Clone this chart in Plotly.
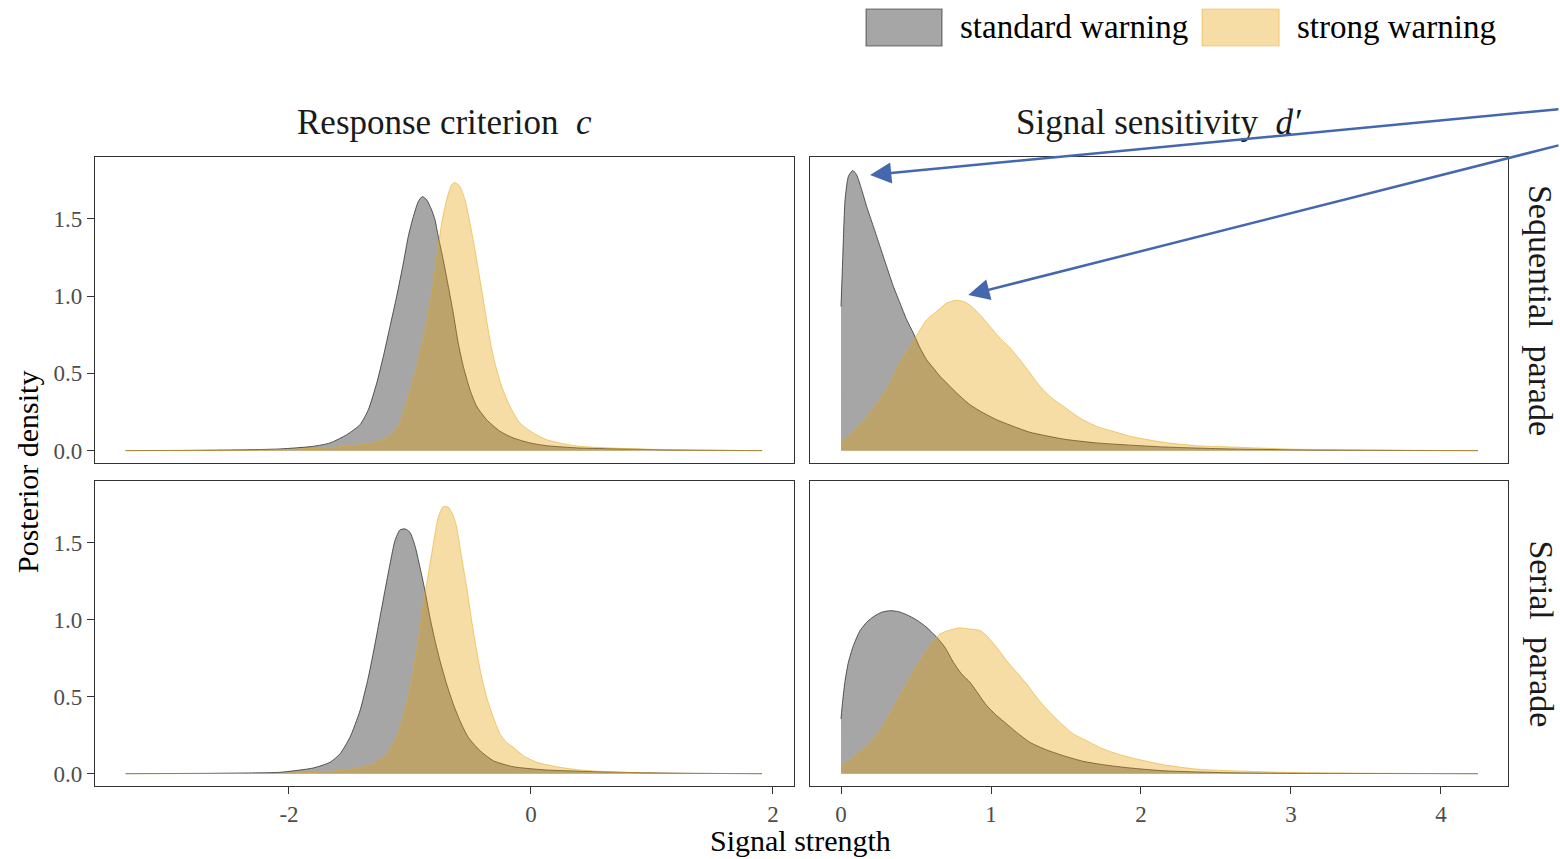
import plotly.graph_objects as go

# ---------------- data ----------------
# Response criterion c, Sequential parade
seq_c_std_x = [-3.35, -2.8, -2.4, -2.074, -1.80, -1.66, -1.523, -1.413, -1.344, -1.275, -1.220, -1.165, -1.110,
               -1.055, -1.014, -0.972, -0.931, -0.898, -0.862, -0.821, -0.793, -0.766, -0.725, -0.683, -0.642,
               -0.601, -0.559, -0.504, -0.449, -0.366, -0.256, -0.146, -0.008, 0.130, 0.405, 0.736, 1.2, 1.91]
seq_c_std_y = [0.0, 0.002, 0.005, 0.011, 0.028, 0.050, 0.103, 0.168, 0.265, 0.437, 0.610, 0.804, 0.998,
               1.213, 1.386, 1.515, 1.612, 1.644, 1.623, 1.558, 1.494, 1.386, 1.235, 1.063, 0.890,
               0.696, 0.545, 0.394, 0.287, 0.200, 0.125, 0.082, 0.050, 0.032, 0.017, 0.011, 0.004, 0.0]
seq_c_str_x = [-3.35, -2.6, -2.074, -1.523, -1.248, -1.138, -1.083, -1.028, -0.972, -0.917, -0.862, -0.807,
               -0.766, -0.738, -0.697, -0.656, -0.628, -0.587, -0.545, -0.504, -0.463, -0.421, -0.380, -0.339,
               -0.298, -0.242, -0.174, -0.091, 0.019, 0.130, 0.267, 0.405, 0.736, 1.2, 1.91]
seq_c_str_y = [0.0, 0.002, 0.006, 0.028, 0.060, 0.114, 0.179, 0.308, 0.459, 0.631, 0.825, 1.084,
               1.321, 1.472, 1.623, 1.720, 1.735, 1.709, 1.623, 1.472, 1.300, 1.106, 0.912, 0.718,
               0.567, 0.416, 0.287, 0.179, 0.114, 0.071, 0.045, 0.028, 0.015, 0.005, 0.0]

# Response criterion c, Serial parade
ser_c_std_x = [-3.35, -2.7, -2.3, -2.074, -1.799, -1.661, -1.579, -1.496, -1.413, -1.344, -1.289, -1.248,
               -1.207, -1.165, -1.124, -1.083, -1.041, -1.000, -0.959, -0.917, -0.876, -0.835, -0.793, -0.752,
               -0.697, -0.642, -0.587, -0.518, -0.421, -0.311, -0.146, 0.130, 0.736, 1.2, 1.91]
ser_c_std_y = [0.0, 0.002, 0.005, 0.009, 0.037, 0.074, 0.128, 0.236, 0.409, 0.626, 0.842, 1.015,
               1.188, 1.361, 1.513, 1.582, 1.589, 1.567, 1.481, 1.340, 1.188, 1.015, 0.864, 0.734,
               0.582, 0.452, 0.344, 0.236, 0.149, 0.084, 0.045, 0.024, 0.009, 0.003, 0.0]
ser_c_str_x = [-3.35, -2.5, -2.074, -1.523, -1.303, -1.193, -1.110, -1.041, -0.986, -0.931, -0.890, -0.848,
               -0.807, -0.766, -0.725, -0.683, -0.642, -0.614, -0.573, -0.531, -0.490, -0.449, -0.407, -0.366,
               -0.311, -0.256, -0.201, -0.146, -0.063, 0.047, 0.212, 0.405, 0.736, 1.2, 1.91]
ser_c_str_y = [0.0, 0.001, 0.002, 0.024, 0.063, 0.128, 0.236, 0.409, 0.604, 0.864, 1.102, 1.297,
               1.491, 1.665, 1.734, 1.729, 1.675, 1.600, 1.405, 1.210, 0.994, 0.799, 0.626, 0.496,
               0.366, 0.258, 0.203, 0.171, 0.117, 0.074, 0.045, 0.024, 0.009, 0.003, 0.0]

# Signal sensitivity d', Sequential parade
seq_d_std_x = [0.0, 0.011, 0.027, 0.049, 0.078, 0.104, 0.138, 0.171, 0.216, 0.260, 0.304, 0.349, 0.393,
               0.438, 0.482, 0.527, 0.571, 0.616, 0.660, 0.704, 0.771, 0.860, 0.949, 1.038, 1.149, 1.260,
               1.482, 1.704, 2.149, 2.593, 3.2, 3.8, 4.247]
seq_d_std_y = [0.933, 1.235, 1.623, 1.774, 1.813, 1.784, 1.688, 1.580, 1.450, 1.321, 1.192, 1.063, 0.955,
               0.847, 0.761, 0.664, 0.588, 0.534, 0.481, 0.438, 0.373, 0.297, 0.244, 0.200, 0.157, 0.119,
               0.075, 0.050, 0.024, 0.011, 0.004, 0.001, 0.0]
seq_d_str_x = [0.0, 0.056, 0.127, 0.193, 0.260, 0.327, 0.393, 0.460, 0.516, 0.571, 0.638, 0.704, 0.760,
               0.816, 0.871, 0.927, 0.993, 1.060, 1.127, 1.193, 1.260, 1.327, 1.393, 1.482, 1.593, 1.704,
               1.816, 1.927, 2.149, 2.371, 2.593, 3.0, 3.5, 4.247]
seq_d_str_y = [0.054, 0.103, 0.168, 0.244, 0.330, 0.437, 0.567, 0.675, 0.765, 0.847, 0.901, 0.955, 0.972,
               0.966, 0.933, 0.879, 0.804, 0.728, 0.664, 0.588, 0.502, 0.416, 0.351, 0.287, 0.211, 0.157,
               0.125, 0.093, 0.054, 0.032, 0.024, 0.010, 0.004, 0.0]

# Signal sensitivity d', Serial parade
ser_d_std_x = [0.0, 0.011, 0.027, 0.049, 0.082, 0.127, 0.171, 0.216, 0.271, 0.327, 0.382, 0.438, 0.504,
               0.571, 0.638, 0.693, 0.749, 0.804, 0.860, 0.916, 0.971, 1.038, 1.104, 1.171, 1.260, 1.371,
               1.482, 1.616, 1.749, 1.927, 2.149, 2.593, 3.2, 4.247]
ser_d_std_y = [0.355, 0.474, 0.604, 0.723, 0.831, 0.929, 0.983, 1.019, 1.048, 1.058, 1.052, 1.032, 0.998,
               0.950, 0.885, 0.820, 0.723, 0.647, 0.593, 0.517, 0.442, 0.377, 0.323, 0.268, 0.203, 0.154,
               0.117, 0.080, 0.058, 0.037, 0.019, 0.006, 0.002, 0.0]
ser_d_str_x = [0.0, 0.082, 0.171, 0.260, 0.349, 0.438, 0.527, 0.593, 0.660, 0.727, 0.793, 0.860, 0.927,
               0.971, 1.038, 1.104, 1.171, 1.238, 1.304, 1.371, 1.460, 1.549, 1.638, 1.749, 1.860, 1.971,
               2.149, 2.371, 2.593, 3.0, 3.5, 4.247]
ser_d_str_y = [0.041, 0.106, 0.182, 0.279, 0.431, 0.582, 0.734, 0.831, 0.907, 0.933, 0.946, 0.939, 0.929,
               0.896, 0.820, 0.734, 0.658, 0.582, 0.496, 0.420, 0.333, 0.258, 0.214, 0.160, 0.123, 0.095,
               0.058, 0.030, 0.019, 0.008, 0.003, 0.0]

groups = ["standard warning", "strong warning"]
columns = ["Response criterion\u00a0 <i>c</i>", "Signal sensitivity\u00a0 <i>d\u2032</i>"]
rows = ["Sequential\u00a0 parade", "Serial\u00a0 parade"]
c_ticks = [-2, 0, 2]
c_ticktext = ["-2", "0", "2"]
d_ticks = [0, 1, 2, 3, 4]
d_ticktext = ["0", "1", "2", "3", "4"]
y_ticks = [0, 0.5, 1.0, 1.5]
y_ticktext = ["0.0", "0.5", "1.0", "1.5"]

# ---------------- styling ----------------
FONT = "Liberation Serif"
fill_cols = {"standard warning": "rgba(0,0,0,0.35)", "strong warning": "rgba(230,159,0,0.35)"}
line_cols = {"standard warning": "rgba(40,40,40,0.75)", "strong warning": "rgba(230,170,30,0.55)"}

panels = [
    ("x", "y", seq_c_std_x, seq_c_std_y, seq_c_str_x, seq_c_str_y),
    ("x2", "y2", seq_d_std_x, seq_d_std_y, seq_d_str_x, seq_d_str_y),
    ("x3", "y3", ser_c_std_x, ser_c_std_y, ser_c_str_x, ser_c_str_y),
    ("x4", "y4", ser_d_std_x, ser_d_std_y, ser_d_str_x, ser_d_str_y),
]

fig = go.Figure()
for xa, ya, sx, sy, tx, ty in panels:
    for g, xs, ys in ((groups[0], sx, sy), (groups[1], tx, ty)):
        fig.add_trace(go.Scatter(
            x=xs, y=ys, xaxis=xa, yaxis=ya, mode="lines", fill="tozeroy",
            fillcolor=fill_cols[g], line=dict(color=line_cols[g], width=1, shape="spline", smoothing=0.6),
            name=g, showlegend=False, hoverinfo="skip"))

c_range = [-3.603, 2.174]
d_range = [-0.207, 4.447]
y_range = [-0.08, 1.90]
xl = [0, 0.4947]
xr = [0.506, 1]
yt = [0.5135, 1]
yb = [0, 0.4849]

axis_common = dict(showgrid=False, zeroline=False, showline=True, mirror=True,
                   linecolor="#333333", linewidth=1.2,
                   tickfont=dict(family=FONT, size=23, color="#4d4d4d"),
                   tickcolor="#333333", ticklen=7, tickwidth=1.2)

fig.update_layout(
    width=1560, height=859,
    margin=dict(l=95, r=52, t=157, b=73),
    paper_bgcolor="white", plot_bgcolor="white",
    font=dict(family=FONT, color="black"),
    xaxis=dict(domain=xl, range=c_range, anchor="y", ticks="", showticklabels=False, **axis_common),
    xaxis2=dict(domain=xr, range=d_range, anchor="y2", ticks="", showticklabels=False, **axis_common),
    xaxis3=dict(domain=xl, range=c_range, anchor="y3", ticks="outside", tickvals=c_ticks, ticktext=c_ticktext, **axis_common),
    xaxis4=dict(domain=xr, range=d_range, anchor="y4", ticks="outside", tickvals=d_ticks, ticktext=d_ticktext, **axis_common),
    yaxis=dict(domain=yt, range=y_range, anchor="x", ticks="outside", tickvals=y_ticks, ticktext=y_ticktext, **axis_common),
    yaxis2=dict(domain=yt, range=y_range, anchor="x2", ticks="", showticklabels=False, **axis_common),
    yaxis3=dict(domain=yb, range=y_range, anchor="x3", ticks="outside", tickvals=y_ticks, ticktext=y_ticktext, **axis_common),
    yaxis4=dict(domain=yb, range=y_range, anchor="x4", ticks="", showticklabels=False, **axis_common),
)

ann = []
# column strip titles
ann.append(dict(text=columns[0], x=0.5, xref="x domain", y=1.0556, yref="paper", showarrow=False,
                font=dict(family=FONT, size=35, color="#1a1a1a"), xanchor="center", yanchor="middle"))
ann.append(dict(text=columns[1], x=0.5, xref="x2 domain", y=1.0556, yref="paper", showarrow=False,
                font=dict(family=FONT, size=35, color="#1a1a1a"), xanchor="center", yanchor="middle"))
# row strip titles
ann.append(dict(text=rows[0], x=1.0234, xref="paper", y=0.5, yref="y domain", showarrow=False, textangle=90,
                font=dict(family=FONT, size=34, color="#1a1a1a"), xanchor="center", yanchor="middle"))
ann.append(dict(text=rows[1], x=1.0234, xref="paper", y=0.5, yref="y3 domain", showarrow=False, textangle=90,
                font=dict(family=FONT, size=34, color="#1a1a1a"), xanchor="center", yanchor="middle"))
# axis titles
ann.append(dict(text="Posterior density", x=-0.0481, xref="paper", y=0.4992, yref="paper", showarrow=False,
                textangle=-90, font=dict(family=FONT, size=30, color="black"), xanchor="center", yanchor="middle"))
ann.append(dict(text="Signal strength", x=0.4996, xref="paper", y=-0.0859, yref="paper", showarrow=False,
                font=dict(family=FONT, size=30, color="black"), xanchor="center", yanchor="middle"))
# legend labels
ann.append(dict(text=groups[0], x=0.6108, xref="paper", y=1.2067, yref="paper", showarrow=False,
                font=dict(family=FONT, size=33, color="black"), xanchor="left", yanchor="middle"))
ann.append(dict(text=groups[1], x=0.8493, xref="paper", y=1.2067, yref="paper", showarrow=False,
                font=dict(family=FONT, size=33, color="black"), xanchor="left", yanchor="middle"))
# arrows pointing at the peaks
ann.append(dict(text="", x=0.5485, xref="paper", y=0.9714, yref="paper", ax=690, ay=-66,
                showarrow=True, arrowhead=2, arrowsize=1.7, arrowwidth=2.5, arrowcolor="#4467b0", standoff=0))
ann.append(dict(text="", x=0.618, xref="paper", y=0.7806, yref="paper", ax=592, ay=-150,
                showarrow=True, arrowhead=2, arrowsize=1.7, arrowwidth=2.5, arrowcolor="#4467b0", standoff=0))
fig.update_layout(annotations=ann)

# legend keys
fig.add_shape(type="rect", xref="paper", yref="paper", x0=0.5457, x1=0.5994, y0=1.1765, y1=1.2353,
              fillcolor="rgba(0,0,0,0.35)", line=dict(color="rgba(40,40,40,0.6)", width=1.2))
fig.add_shape(type="rect", xref="paper", yref="paper", x0=0.7835, x1=0.8380, y0=1.1765, y1=1.2353,
              fillcolor="rgba(230,159,0,0.35)", line=dict(color="rgba(230,170,30,0.45)", width=1.2))

fig.write_html("out.html", config={"displayModeBar": False},
               post_script="document.body.style.margin='0';document.body.style.padding='0';document.body.style.overflow='hidden';")
